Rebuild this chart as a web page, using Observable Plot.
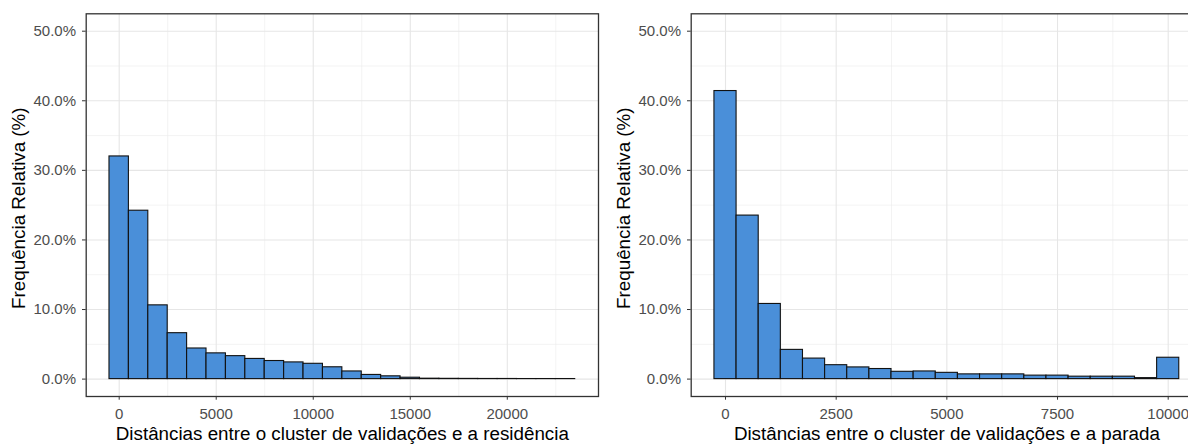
<!DOCTYPE html>
<html><head><meta charset="utf-8">
<script src="https://cdn.jsdelivr.net/npm/d3@7"></script>
<script src="https://cdn.jsdelivr.net/npm/@observablehq/plot@0.6"></script>
<style>
html,body{margin:0;padding:0;background:#fff;overflow:hidden;width:1188px;height:444px}
#wrap{position:relative;width:1188px;height:444px;overflow:hidden}
#left,#right{position:absolute;top:0}
#left{left:0;width:600px}
#right{left:600px;width:610px}
svg{display:block;max-width:none !important}
</style></head><body><div id="wrap"><div id="left"></div><div id="right"></div></div>
<script>
// Left histogram: distance to residence (bin width 1000, centers)
const leftCenters = [0,1000,2000,3000,4000,5000,6000,7000,8000,9000,10000,11000,12000,13000,14000,15000,16000,17000,18000,19000,20000,21000,22000,23000];
const leftPct = [32.0,24.2,10.6,6.6,4.4,3.7,3.3,2.9,2.6,2.4,2.2,1.7,1.1,0.6,0.4,0.2,0.06,0.04,0.03,0.02,0.02,0.01,0.01,0.01];
const leftBinWidth = 1000;
// Right histogram: distance to stop (bin width 500, centers)
const rightCenters = [0,500,1000,1500,2000,2500,3000,3500,4000,4500,5000,5500,6000,6500,7000,7500,8000,8500,9000,9500,10000];
const rightPct = [41.4,23.5,10.8,4.2,2.95,2.0,1.68,1.45,1.05,1.1,0.9,0.68,0.68,0.68,0.5,0.5,0.35,0.35,0.35,0.14,3.07];
const rightBinWidth = 500;

const yTicks = [0,10,20,30,40,50];
const yMinor = [5,15,25,35,45];
const leftXTicks = [0,5000,10000,15000,20000];
const leftXMinor = [2500,7500,12500,17500,22500];
const rightXTicks = [0,2500,5000,7500,10000];
const rightXMinor = [1250,3750,6250,8750];
const yTitle = "Frequência Relativa (%)";
const leftXTitle = "Distâncias entre o cluster de validações e a residência";
const rightXTitle = "Distâncias entre o cluster de validações e a parada";

const FONT = "'Liberation Sans', Arial, sans-serif";
const TICK_FS = 15, TITLE_FS = 18.8;

function panel({centers, pct, bw, xDomain, xTicks, xMinor, xTitle, width, marginLeft, marginRight}) {
  const data = centers.map((c, i) => ({x1: c - bw / 2, x2: c + bw / 2, y: pct[i]}));
  return Plot.plot({
    width, height: 444,
    marginLeft, marginRight, marginTop: 13.3, marginBottom: 48,
    style: {fontFamily: FONT, background: "white", overflow: "visible", maxWidth: "none"},
    x: {domain: xDomain, label: null},
    y: {domain: [-2.5, 52.5], label: null},
    marks: [
      Plot.ruleX(xMinor, {stroke: "#EBEBEB", strokeWidth: 0.6}),
      Plot.ruleY(yMinor, {stroke: "#EBEBEB", strokeWidth: 0.6}),
      Plot.ruleX(xTicks, {stroke: "#E6E6E6", strokeWidth: 1.1}),
      Plot.ruleY(yTicks, {stroke: "#E6E6E6", strokeWidth: 1.1}),
      Plot.rect(data, {x1: "x1", x2: "x2", y1: 0, y2: "y", fill: "#4A8FD9", stroke: "#111", strokeWidth: 1.1}),
      Plot.frame({stroke: "#333333", strokeWidth: 1.3}),
      Plot.axisX(xTicks, {tickSize: 3.7, tickPadding: 8, fontSize: TICK_FS, fill: "#4D4D4D", stroke: "#333333", label: null, tickFormat: d => String(d)}),
      Plot.axisY(yTicks, {tickSize: 3.7, tickPadding: 6.5, fontSize: TICK_FS, fill: "#4D4D4D", stroke: "#333333", label: null, tickFormat: d => d.toFixed(1) + "%"}),
      Plot.text([xTitle], {frameAnchor: "bottom", dy: 43, fontSize: TITLE_FS, fill: "black", textAnchor: "middle", text: d => d}),
      Plot.text([yTitle], {frameAnchor: "left", dx: -67.5, dy: 3, rotate: -90, textAnchor: "middle", fontSize: TITLE_FS, fill: "black", text: d => d})
    ]
  });
}

document.getElementById("left").append(panel({
  centers: leftCenters, pct: leftPct, bw: leftBinWidth,
  xDomain: [-1700, 24700], xTicks: leftXTicks, xMinor: leftXMinor, xTitle: leftXTitle,
  width: 600, marginLeft: 85.7, marginRight: 2
}));
document.getElementById("right").append(panel({
  centers: rightCenters, pct: rightPct, bw: rightBinWidth,
  xDomain: [-775, 10775], xTicks: rightXTicks, xMinor: rightXMinor, xTitle: rightXTitle,
  width: 610, marginLeft: 90.7, marginRight: 8
}));
</script></body></html>
